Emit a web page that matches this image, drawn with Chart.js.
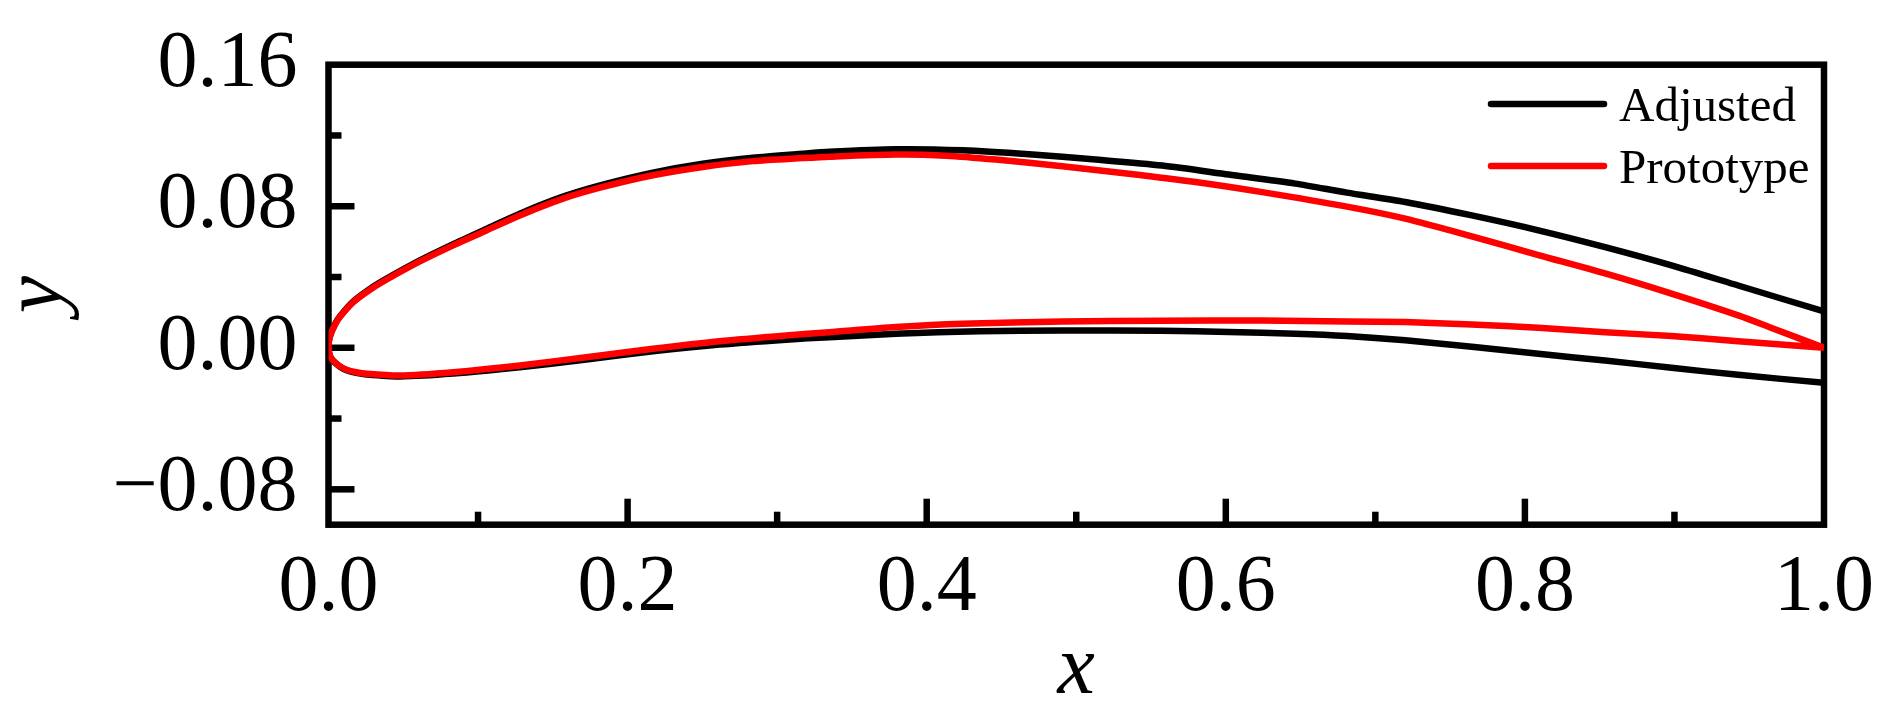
<!DOCTYPE html>
<html><head><meta charset="utf-8">
<script src="https://cdn.jsdelivr.net/npm/chart.js@4.4.1/dist/chart.umd.min.js"></script>
<style>html,body{margin:0;padding:0;background:#fff;overflow:hidden}#wrap{width:1895px;height:713px;position:relative}canvas{display:block}</style>
</head><body><div id="wrap"><canvas id="c" width="1895" height="713"></canvas></div>
<script>
// ---- data ----
const seriesNames = ['Adjusted', 'Prototype'];
const seriesColors = ['#000000', '#ff0000'];

const adjUpperX = [0, 0.001, 0.0043, 0.0077, 0.0166, 0.0277, 0.0389, 0.0611, 0.0834, 0.1056, 0.1279, 0.1568, 0.1835, 0.2169, 0.2503, 0.2837, 0.317, 0.3349, 0.3794, 0.4239, 0.4684, 0.513, 0.5575, 0.602, 0.6465, 0.681, 0.72, 0.7645, 0.809, 0.8536, 0.898, 0.9426, 1.0];
const adjUpperY = [0.001, 0.0067, 0.0133, 0.0178, 0.0262, 0.0333, 0.0391, 0.0494, 0.0586, 0.0672, 0.0758, 0.0854, 0.0922, 0.0990, 0.1040, 0.1074, 0.1097, 0.1108, 0.1122, 0.1116, 0.1094, 0.1064, 0.1030, 0.0979, 0.0928, 0.0877, 0.0824, 0.0748, 0.0664, 0.0569, 0.0466, 0.0352, 0.0205];
const adjLowerX = [0, 0.0008, 0.0032, 0.0077, 0.0121, 0.0185, 0.0255, 0.0477, 0.0834, 0.128, 0.1724, 0.2169, 0.2614, 0.306, 0.3349, 0.3794, 0.435, 0.4907, 0.5575, 0.602, 0.6465, 0.681, 0.72, 0.7645, 0.809, 0.8536, 0.898, 0.9426, 1.0];
const adjLowerY = [0.001, -0.0043, -0.0075, -0.0107, -0.0127, -0.0142, -0.0151, -0.0162, -0.0146, -0.0110, -0.0066, -0.0020, 0.0018, 0.0046, 0.0060, 0.0079, 0.0094, 0.0098, 0.0096, 0.0089, 0.0079, 0.0066, 0.0042, 0.0006, -0.0034, -0.0072, -0.0113, -0.0153, -0.0198];

const protoUpperX = [0, 0.001, 0.0043, 0.0077, 0.0166, 0.0277, 0.0389, 0.0611, 0.0834, 0.1056, 0.1279, 0.1568, 0.1835, 0.2169, 0.2503, 0.2837, 0.317, 0.3349, 0.3794, 0.4128, 0.4462, 0.4907, 0.5352, 0.5798, 0.6243, 0.681, 0.72, 0.7645, 0.809, 0.8536, 0.898, 0.9426, 0.965, 1.0];
const protoUpperY = [0.001, 0.0065, 0.0130, 0.0175, 0.0258, 0.0328, 0.0386, 0.0488, 0.0579, 0.0663, 0.0748, 0.0843, 0.0909, 0.0975, 0.1022, 0.1055, 0.1072, 0.1080, 0.1092, 0.1086, 0.1064, 0.1026, 0.0984, 0.0937, 0.0880, 0.0798, 0.0730, 0.0630, 0.0524, 0.0420, 0.0306, 0.0183, 0.0112, 0.0];
const protoLowerX = [0, 0.0008, 0.0032, 0.0077, 0.0121, 0.0185, 0.0255, 0.0477, 0.0834, 0.128, 0.1724, 0.2169, 0.2614, 0.306, 0.3349, 0.3794, 0.4239, 0.4907, 0.5575, 0.6243, 0.681, 0.72, 0.7645, 0.809, 0.8536, 0.898, 0.9426, 1.0];
const protoLowerY = [0.001, -0.0042, -0.0074, -0.0105, -0.0124, -0.0138, -0.0147, -0.0157, -0.0138, -0.0100, -0.0053, -0.0006, 0.0037, 0.0070, 0.0088, 0.0117, 0.0136, 0.0149, 0.0153, 0.0154, 0.0149, 0.0145, 0.0132, 0.0113, 0.0088, 0.0066, 0.0037, 0.0];

const xTickValues = [0, 0.2, 0.4, 0.6, 0.8, 1.0];
const xTickLabels = ['0.0', '0.2', '0.4', '0.6', '0.8', '1.0'];
const yTickValues = [-0.08, 0, 0.08, 0.16];
const yTickLabels = ['\u22120.08', '0.00', '0.08', '0.16'];
const xAxisTitle = 'x';
const yAxisTitle = 'y';
const xMin = 0, xMax = 1, xMinorStep = 0.1;
const yMin = -0.10, yMax = 0.16, yMinorStep = 0.04;

// closed contour: trailing edge -> upper -> leading edge -> lower -> trailing edge
function contour(ux, uy, lx, ly) {
  const pts = [];
  for (let i = ux.length - 1; i >= 0; i--) pts.push({x: ux[i], y: uy[i]});
  for (let i = 1; i < lx.length; i++) pts.push({x: lx[i], y: ly[i]});
  return pts;
}
const contours = [
  contour(adjUpperX, adjUpperY, adjLowerX, adjLowerY),
  contour(protoUpperX, protoUpperY, protoLowerX, protoLowerY)
];

const FONT = "'Liberation Serif', 'Times New Roman', serif";

function labelFor(values, labels, v) {
  const i = values.findIndex(t => Math.abs(t - v) < 1e-9);
  return i >= 0 ? labels[i] : '';
}

const framePlugin = {
  id: 'frame',
  beforeDatasetsDraw(chart) {
    const {ctx, chartArea: a, scales: {x, y}} = chart;
    ctx.save();
    ctx.strokeStyle = '#000';
    ctx.lineWidth = 6.5;
    ctx.lineCap = 'butt';
    x.ticks.forEach(t => {
      const v = t.value, k = Math.round(v / xMinorStep);
      if (Math.abs(v - k * xMinorStep) > 1e-9 || v <= x.min + 1e-9 || v >= x.max - 1e-9) return;
      const px = x.getPixelForValue(v);
      const len = (k % 2 === 0) ? 26 : 13;
      ctx.beginPath(); ctx.moveTo(px, a.bottom); ctx.lineTo(px, a.bottom - len); ctx.stroke();
    });
    y.ticks.forEach(t => {
      const v = t.value, k = Math.round(v / yMinorStep);
      if (Math.abs(v - k * yMinorStep) > 1e-9 || v <= y.min + 1e-9 || v >= y.max - 1e-9) return;
      const py = y.getPixelForValue(v);
      const len = (Math.abs(k) % 2 === 0) ? 26 : 13;
      ctx.beginPath(); ctx.moveTo(a.left, py); ctx.lineTo(a.left + len, py); ctx.stroke();
    });
    ctx.lineJoin = 'miter';
    ctx.strokeRect(a.left, a.top, a.right - a.left, a.bottom - a.top);
    ctx.restore();
  },
  afterDraw(chart) {
    const {ctx} = chart;
    ctx.save();
    ctx.font = '49px ' + FONT;
    ctx.textBaseline = 'alphabetic';
    ctx.textAlign = 'left';
    const lineY = [104, 166];
    chart.data.datasets.forEach((ds, i) => {
      ctx.strokeStyle = ds.borderColor;
      ctx.lineWidth = 6.5;
      ctx.lineCap = 'round';
      ctx.beginPath(); ctx.moveTo(1491, lineY[i]); ctx.lineTo(1604, lineY[i]); ctx.stroke();
      ctx.fillStyle = '#000';
      ctx.fillText(ds.label, 1619, lineY[i] + 17);
    });
    ctx.restore();
  }
};

new Chart(document.getElementById('c'), {
  type: 'scatter',
  data: {
    datasets: seriesNames.map((name, i) => ({
      label: name,
      data: contours[i],
      showLine: true,
      borderColor: seriesColors[i],
      backgroundColor: seriesColors[i],
      borderWidth: 6.5,
      pointRadius: 0,
      pointHoverRadius: 0,
      tension: 0.25,
      fill: false,
      order: i === 0 ? 1 : 0
    }))
  },
  options: {
    responsive: false,
    animation: false,
    devicePixelRatio: 1,
    layout: {padding: {left: 0, top: 64.7, right: 71, bottom: 0}},
    plugins: {legend: {display: false}, tooltip: {enabled: false}},
    scales: {
      x: {
        type: 'linear', min: xMin, max: xMax,
        border: {display: false},
        grid: {display: false, drawTicks: false},
        ticks: {
          stepSize: xMinorStep, autoSkip: false, maxRotation: 0, padding: 16, includeBounds: false,
          color: '#000', font: {family: FONT, size: 80},
          callback: v => labelFor(xTickValues, xTickLabels, v)
        },
        title: {display: true, text: xAxisTitle, color: '#000',
          font: {family: FONT, size: 84, style: 'italic', lineHeight: 1.0}, padding: {top: 0, bottom: 0}},
        afterFit: s => { s.height = 713 - 524.7; s.paddingLeft = 0; s.paddingRight = 0; }
      },
      y: {
        type: 'linear', min: yMin, max: yMax,
        border: {display: false},
        grid: {display: false, drawTicks: false},
        ticks: {
          stepSize: yMinorStep, autoSkip: false, padding: 31, includeBounds: false,
          color: '#000', font: {family: FONT, size: 80},
          callback: v => labelFor(yTickValues, yTickLabels, v)
        },
        title: {display: true, text: yAxisTitle, color: '#000',
          font: {family: FONT, size: 84, style: 'italic', lineHeight: 0.93}, padding: {top: 0, bottom: 0}},
        afterFit: s => { s.width = 328.5; s.paddingTop = 0; s.paddingBottom = 0; }
      }
    }
  },
  plugins: [framePlugin]
});
</script>
</body></html>
